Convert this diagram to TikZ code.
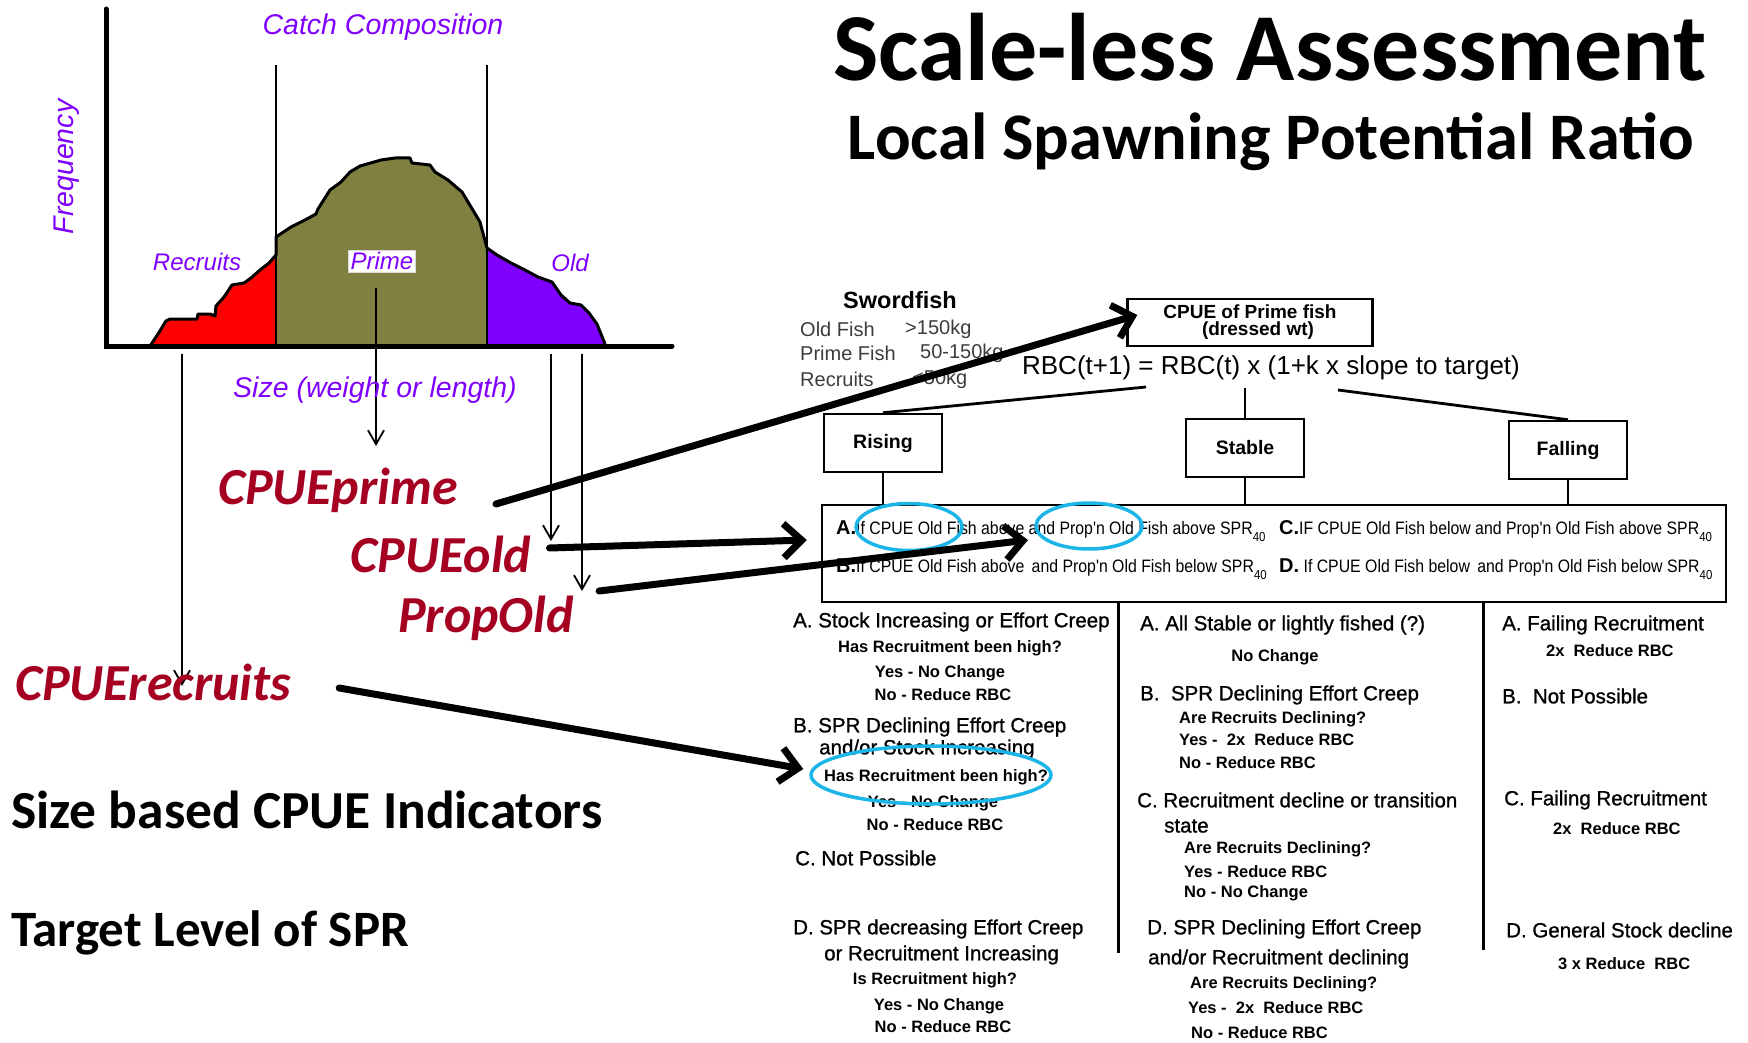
\documentclass[tikz,border=0pt]{standalone}
\usepackage{fontspec}
\setmainfont{Liberation Sans}
\newfontfamily\calfont{Carlito}
\newfontfamily\slimfont[FakeStretch=0.88]{Liberation Sans}
\newfontfamily\headfont[FakeBold=1]{Liberation Sans}
\usetikzlibrary{arrows.meta,calc,shapes.geometric}
\definecolor{chartviolet}{HTML}{8000FF}
\definecolor{recruitred}{HTML}{FF0000}
\definecolor{primeolive}{HTML}{808040}
\definecolor{wine}{HTML}{A50021}
\definecolor{ringcyan}{HTML}{1CB5E8}
\definecolor{fishgray}{HTML}{3C3C3C}
\def\fsz#1{\fontsize{#1}{#1}\selectfont}
\def\spr{SPR\raisebox{-7pt}{\fsz{13}40}}
\def\rowlbl#1{{\normalfont\bfseries\fsz{20}#1}}
\tikzset{
  chartlbl/.style={text=chartviolet, font=\fsz{28.5}\itshape, inner sep=0},
  partlbl/.style={text=chartviolet, font=\fsz{24}\itshape, inner sep=0},
  cpuelbl/.style={text=wine, font=\calfont\bfseries\itshape\fsz{52}, inner sep=0},
  blacklbl/.style={font=\calfont\bfseries\fsz{51}, inner sep=0, anchor=west},
  trendbox/.style={draw, line width=2.5pt, minimum width=118, minimum height=58, font=\bfseries\fsz{19.5}},
  rowtxt/.style={font=\slimfont\fsz{18}, inner sep=0, anchor=west},
  colhead/.style={font=\headfont\fsz{20.5}, inner sep=0, anchor=west},
  colsub/.style={font=\bfseries\fsz{16.5}, inner sep=0},
  ring/.style={draw=ringcyan, line width=3.5pt, ellipse, inner sep=0},
  thinarrow/.style={line width=1.8pt, -{Straight Barb[length=14pt,width=16pt]}},
  bigarrow/.style={line width=7pt, line cap=round, -{Straight Barb[length=18pt,width=34pt]}},
}
\begin{document}
\begin{tikzpicture}[x=1pt,y=-1pt]
\useasboundingbox (0,0) rectangle (1748,1043);
%%%%% CATCH COMPOSITION %%%%%
\fill[recruitred] (150,346) -- (158,334) -- (166,321) -- (170,319) -- (197,319) -- (198,314) -- (210,314) -- (215,316) -- (216,306) -- (224,297) -- (232,285) -- (244,283) -- (251,278) -- (260,270) -- (269,263) -- (276,255) -- (276,346) -- cycle;
\fill[primeolive] (276,346) -- (276,237) -- (279,235) -- (291,227) -- (305,220) -- (316,214) -- (318,209) -- (330,190) -- (341,182) -- (350,172) -- (360,166) -- (381,160) -- (395,158) -- (410,158) -- (412,163) -- (430,165) -- (435,172) -- (448,180) -- (462,192) -- (471,207) -- (480,222) -- (484,237) -- (487,248) -- (487,346) -- cycle;
\fill[chartviolet] (487,346) -- (487,248) -- (497,255) -- (511,263) -- (525,270) -- (538,277) -- (552,282) -- (561,295) -- (570,303) -- (581,305) -- (589,313) -- (597,324) -- (605,344) -- cycle;
\draw[line width=3pt, line join=round] (150,346) -- (158,334) -- (166,321) -- (170,319) -- (197,319) -- (198,314) -- (210,314) -- (215,316) -- (216,306) -- (224,297) -- (232,285) -- (244,283) -- (251,278) -- (260,270) -- (269,263) -- (276,255) -- (276,237) -- (279,235) -- (291,227) -- (305,220) -- (316,214) -- (318,209) -- (330,190) -- (341,182) -- (350,172) -- (360,166) -- (381,160) -- (395,158) -- (410,158) -- (412,163) -- (430,165) -- (435,172) -- (448,180) -- (462,192) -- (471,207) -- (480,222) -- (484,237) -- (487,248) -- (497,255) -- (511,263) -- (525,270) -- (538,277) -- (552,282) -- (561,295) -- (570,303) -- (581,305) -- (589,313) -- (597,324) -- (605,344);
\draw[line width=1.8pt] (276,65) -- (276,346);
\draw[line width=1.8pt] (487,65) -- (487,346);
\draw[line width=5pt, line cap=round] (106,9) -- (106,346) -- (672,346);

\node[chartlbl, rotate=90] (freq) at (67,167) {Frequency};
\node[chartlbl] (catch) at (383,27) {Catch Composition};
\node[partlbl] (recruits) at (197,262) {Recruits};
\node[partlbl, fill=white, draw=black!15, inner sep=2pt] (prime) at (382,261) {Prime};
\node[partlbl] (old) at (570,263) {Old};

% size classes dropped to the indicators
\coordinate (recTop) at (182,354);  \coordinate (recTip) at (182,686);
\coordinate (primeTop) at (376,288); \coordinate (primeTip) at (376,446);
\coordinate (oldTop) at (551,354);  \coordinate (oldTip) at (551,541);
\coordinate (propTop) at (582,354); \coordinate (propTip) at (582,591);
\draw[thinarrow] (recTop) -- (recTip);
\draw[thinarrow] (primeTop) -- (primeTip);
\draw[thinarrow] (oldTop) -- (oldTip);
\draw[thinarrow] (propTop) -- (propTip);
\node[chartlbl] (size) at (375,390) {Size (weight or length)};

%%%%% INDICATORS %%%%%
\node[cpuelbl] (cpueprime) at (338,490) {CPUEprime};
\node[cpuelbl] (cpueold) at (441,554) {CPUEold};
\node[cpuelbl] (propold) at (486,618) {PropOld};
\node[cpuelbl] (cpuerecruits) at (153,682) {CPUErecruits};
\node[blacklbl, font=\calfont\bfseries\fsz{53.5}] (sizebased) at (11,810) {Size based CPUE Indicators};
\node[blacklbl] (target) at (11,933) {Target Level of SPR};

%%%%% TITLE %%%%%
\node[font=\calfont\bfseries\fsz{96}, inner sep=0] (title) at (1270,47) {Scale-less Assessment};
\node[font=\calfont\bfseries\fsz{66.5}, inner sep=0] (subtitle) at (1271,142) {Local Spawning Potential Ratio};

%%%%% DECISION TREE %%%%%
\node[font=\bfseries\fsz{23.5}, inner sep=0] (sword) at (900,300) {Swordfish};
\foreach \y/\cls/\xw/\wt in {329/Old Fish/905/{>150kg}, 353/Prime Fish/920/50-150kg, 379/Recruits/912/{<50kg}} {
  \node[font=\fsz{20}, text=fishgray, inner sep=0, anchor=west] at (800,\y) {\cls};
  \node[font=\fsz{20}, text=fishgray, inner sep=0, anchor=west] at (\xw,\y) {\wt};
}
\node[draw, line width=2.5pt, minimum width=245, minimum height=47, inner sep=0, align=center, font=\bfseries\fsz{19}] (primebox) at (1250,322.5) {CPUE of Prime fish\\[-2pt]\hspace*{16pt}(dressed wt)};
\node[font=\fsz{26}, inner sep=0] (rbc) at (1271,368) {RBC(t+1) = RBC(t) x (1+k x slope to target)};

\node[trendbox] (rising) at (883,443) {Rising};
\node[trendbox] (stable) at (1245,448) {Stable};
\node[trendbox] (falling) at (1568,450) {Falling};
\coordinate (rbcL) at (1146,387);
\coordinate (rbcM) at (1245,388);
\coordinate (rbcR) at (1338,390);
\draw[line width=2.8pt] (rbcL) -- (rising.north);
\draw[line width=2.8pt] (rbcM) -- (stable.north);
\draw[line width=2.8pt] (rbcR) -- (falling.north);

\node[draw, line width=2.5pt, minimum width=904, minimum height=97, inner sep=0] (critbox) at (1274,553.5) {};
\draw[line width=2.5pt] (rising.south) -- (rising.south |- critbox.north);
\draw[line width=2.5pt] (stable.south) -- (stable.south |- critbox.north);
\draw[line width=2.5pt] (falling.south) -- (falling.south |- critbox.north);

\node[rowtxt] (rowA) at (836,531) {\rowlbl{A.}If CPUE Old Fish above and Prop'n Old Fish above \spr};
\node[rowtxt] (rowB) at (836,569) {\rowlbl{B.}If CPUE Old Fish above\, and Prop'n Old Fish below \spr};
\node[rowtxt] (rowC) at (1279,531) {\rowlbl{C.}IF CPUE Old Fish below and Prop'n Old Fish above \spr};
\node[rowtxt] (rowD) at (1279,569) {\rowlbl{D.} If CPUE Old Fish below\, and Prop'n Old Fish below \spr};

% outcome columns
\draw[line width=3pt] (1118,602) -- (1118,953);
\draw[line width=3pt] (1483,602) -- (1483,950);
\foreach \x/\y/\t [count=\i] in {
  793/622/{A. Stock Increasing or Effort Creep}, 793/727/{B. SPR Declining Effort Creep},
  819/749/{and/or Stock Increasing}, 795/858/{C. Not Possible},
  793/929/{D. SPR decreasing Effort Creep}, 824/955/{or Recruitment Increasing},
  1140/625/{A. All Stable or lightly fished (?)}, 1140/695/{B.\ \ SPR Declining Effort Creep},
  1137/800/{C. Recruitment decline or transition}, 1164/826/{state},
  1147/929/{D. SPR Declining Effort Creep}, 1148/959/{and/or Recruitment declining},
  1502/625/{A. Failing Recruitment}, 1502/696/{B.\ \ Not Possible},
  1504/800/{C. Failing Recruitment}, 1506/930/{D. General Stock decline}}
  \node[colhead] (head\i) at (\x,\y) {\t};
\foreach \x/\y/\t [count=\i] in {
  950/648/{Has Recruitment been high?}, 940/673/{Yes - No Change}, 943/695/{No - Reduce RBC},
  936/777/{Has Recruitment been high?}, 933/803/{Yes - No Change}, 935/825/{No - Reduce RBC},
  935/980/{Is Recruitment high?}, 939/1006/{Yes - No Change}, 943/1027/{No - Reduce RBC},
  1275/657/{No Change}}
  \node[colsub] (ans\i) at (\x,\y) {\t};
\foreach \x/\y/\t [count=\i] in {
  1179/719/{Are Recruits Declining?}, 1179/740/{Yes -\ \ 2x\ \ Reduce RBC}, 1179/763/{No - Reduce RBC},
  1184/849/{Are Recruits Declining?}, 1184/872/{Yes - Reduce RBC}, 1184/893/{No - No Change},
  1190/984/{Are Recruits Declining?}, 1188/1008/{Yes -\ \ 2x\ \ Reduce RBC}, 1191/1033/{No - Reduce RBC},
  1546/651/{2x\ \ Reduce RBC}, 1553/829/{2x\ \ Reduce RBC}, 1558/964/{3 x Reduce\ \ RBC}}
  \node[colsub, anchor=west] (sub\i) at (\x,\y) {\t};

%%%%% HIGHLIGHTS %%%%%
\node[ring, minimum width=106, minimum height=47] (ringA) at (909,527) {};
\node[ring, minimum width=106, minimum height=46] (ringB) at (1089,526) {};
\node[ring, minimum width=240, minimum height=58] (ringC) at (931,775) {};
\coordinate (propHit) at (1028,540);
\draw[bigarrow] ([shift={(38,14)}]cpueprime.east) -- ([xshift=11,yshift=7.5]primebox.west);
\draw[bigarrow] ([shift={(18,-6)}]cpueold.east) -- ($(critbox.west)+(-14,-13.5)$);
\draw[bigarrow] ([shift={(25,-27)}]propold.east) -- (propHit);
\draw[bigarrow] ([shift={(48,6)}]cpuerecruits.east) -- ([xshift=-6,yshift=6]ringC.west);
\end{tikzpicture}
\end{document}
